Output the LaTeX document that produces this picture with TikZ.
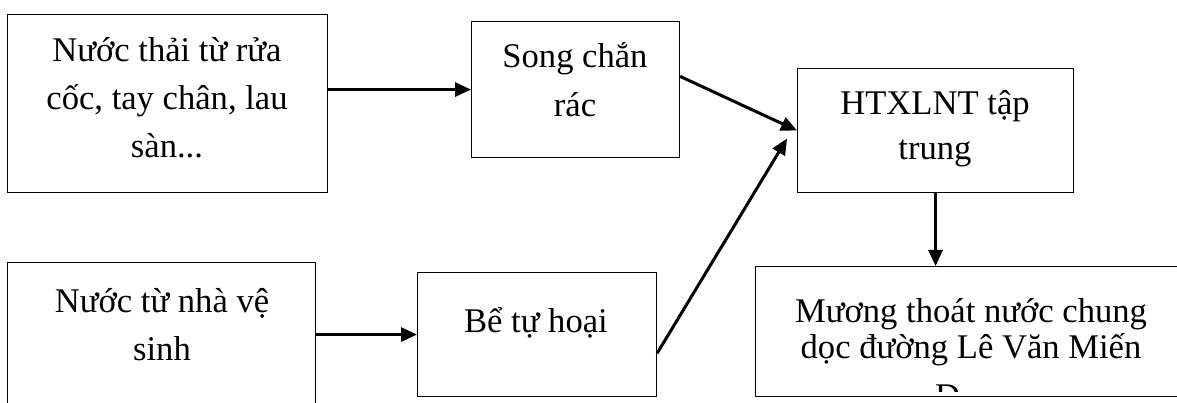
\documentclass[tikz,border=0pt]{standalone}
\usepackage{fontspec}
\setmainfont{Liberation Serif}
\usetikzlibrary{arrows.meta,calc}
\tikzset{
  box/.style={draw=black, line width=1.1pt, anchor=north west, inner sep=0pt},
  txt/.style={anchor=base, inner sep=0pt},
  arr/.style={line width=3pt, -{Triangle[length=16pt,width=14pt]}}
}
\newcommand{\boxtext}[2]{\fontsize{34.6}{#1}\selectfont\parbox[t]{18cm}{\centering #2}}
\begin{document}
\begin{tikzpicture}[x=1pt,y=-1pt]
\useasboundingbox (0,0) rectangle (1177,403);
\fill[white] (0,0) rectangle (1177,403);
\begin{scope}
\clip (0,0) rectangle (1177,403);
% boxes
\node[box, minimum width=320pt, minimum height=178pt] (A) at (7,14) {};
\node[box, minimum width=208pt, minimum height=136pt] (B) at (471,21) {};
\node[box, minimum width=276pt, minimum height=124pt] (C) at (797,68) {};
\node[box, minimum width=308pt, minimum height=160pt] (D) at (7,262) {};
\node[box, minimum width=239pt, minimum height=124pt] (E) at (417,272) {};
\node[box, minimum width=432pt, minimum height=130pt] (F) at (755,266) {};
% texts
\node[txt] (tA) at (167,62) {\boxtext{48}{Nước thải từ rửa\\cốc, tay chân, lau\\sàn...}};
\node[txt] (tB) at (575,68) {\boxtext{49}{Song chắn\\rác}};
\node[txt] (tC) at (935,115) {\boxtext{45}{HTXLNT tập\\trung}};
\node[txt] (tD) at (162,312) {\boxtext{48}{Nước từ nhà vệ\\sinh}};
\node[txt] (tE) at (536,332) {\boxtext{48}{Bể tự hoại}};
\node[txt] (tF) at (971,322) {\boxtext{36}{Mương thoát nước chung\\dọc đường Lê Văn Miến}};
\begin{scope}
\clip (755,266) rectangle (1187,391);
\node[anchor=base west, inner sep=0pt] (tF3) at (935,407) {\fontsize{34.6}{36}\selectfont D};
\end{scope}
% connectors
\coordinate (bOut) at ($(B.north east)!0.404!(B.south east)$);
\coordinate (eOut) at ($(E.north east)!0.65!(E.south east)$);
\coordinate (cIn2) at ($(C.west)+(-10,8)$);
\draw[arr] (A.east |- B.west) -- (B.west);
\draw[arr] (D.east |- E.west) -- (E.west);
\draw[arr] (bOut) -- (C.west);
\draw[arr] (eOut) -- (cIn2);
\draw[arr] (C.south) -- (C.south |- F.north);
\end{scope}
\end{tikzpicture}
\end{document}
